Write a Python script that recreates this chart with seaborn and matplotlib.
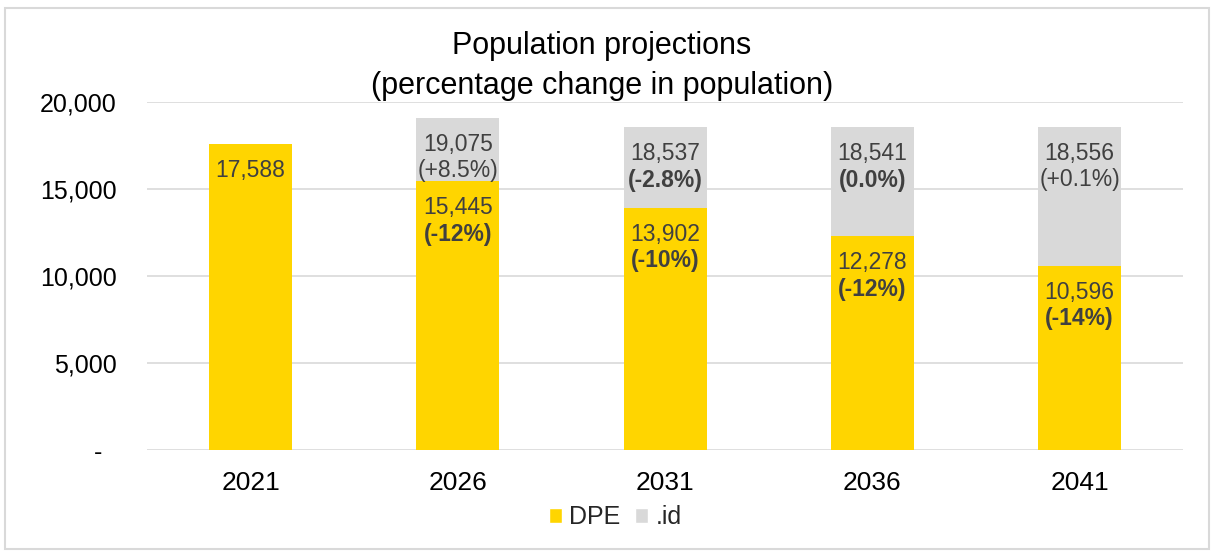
import matplotlib
matplotlib.use("Agg")
import matplotlib.pyplot as plt
import numpy as np
import pandas as pd
import seaborn as sns
from matplotlib.patches import Rectangle, Patch
from matplotlib.ticker import FuncFormatter, MultipleLocator

# Projection data
years = ["2021", "2026", "2031", "2036", "2041"]
dpe_values = [17588, 15445, 13902, 12278, 10596]
dpe_change = [None, "-12%", "-10%", "-12%", "-14%"]
id_values = [np.nan, 19075, 18537, 18541, 18556]
id_change = [None, "+8.5%", "-2.8%", "0.0%", "+0.1%"]
id_change_bold = [False, False, True, True, False]

YELLOW = "#FFD500"
GRAY = "#D9D9D9"
TEXT = "#404040"

sns.set_theme(style="white")
plt.rcParams["font.family"] = ["Liberation Sans", "DejaVu Sans"]

df = pd.DataFrame({"year": years, "DPE": dpe_values, "id": id_values})

fig, ax = plt.subplots(figsize=(12.11, 5.51), dpi=100)
fig.subplots_adjust(left=0.1214, right=0.977, bottom=0.183, top=0.815)

# .id projection sits behind the DPE projection
sns.barplot(data=df, x="year", y="id", color=GRAY, width=0.4, saturation=1,
            errorbar=None, ax=ax, zorder=2, linewidth=0)
sns.barplot(data=df, x="year", y="DPE", color=YELLOW, width=0.4, saturation=1,
            errorbar=None, ax=ax, zorder=3, linewidth=0)

ax.set_ylim(0, 20000)
ax.yaxis.set_major_locator(MultipleLocator(5000))
ax.yaxis.set_major_formatter(FuncFormatter(lambda v, p: "-  " if v == 0 else f"{v:,.0f}"))
ax.yaxis.grid(True, color="#D9D9D9", linewidth=1.2)
ax.set_axisbelow(True)
for s in ax.spines.values():
    s.set_visible(False)
ax.tick_params(axis="both", length=0, colors="black")
ax.tick_params(axis="y", pad=22, labelsize=18)
ax.tick_params(axis="x", pad=15, labelsize=19)
ax.set_xlabel("")
ax.set_ylabel("")


def label_bar(i, value, change, bold):
    ax.annotate(f"{value:,.0f}", xy=(i, value), xytext=(0, -19),
                textcoords="offset points", ha="center", va="center",
                fontsize=16.5, color=TEXT, zorder=5)
    if change is not None:
        ax.annotate(f"({change})", xy=(i, value), xytext=(0, -38),
                    textcoords="offset points", ha="center", va="center",
                    fontsize=16.5, color=TEXT, zorder=5,
                    fontweight="bold" if bold else "normal")


for i in range(len(years)):
    if not np.isnan(id_values[i]):
        label_bar(i, id_values[i], id_change[i], id_change_bold[i])
    label_bar(i, dpe_values[i], dpe_change[i], True)

fig.text(0.497, 0.88, "Population projections\n(percentage change in population)",
         ha="center", va="center", fontsize=22, color="black", linespacing=1.42)

handles = [Patch(facecolor=YELLOW, label="DPE"), Patch(facecolor=GRAY, label=".id")]
fig.legend(handles=handles, loc="center", bbox_to_anchor=(0.508, 0.061), ncol=2,
           frameon=False, fontsize=18, handlelength=0.52, handleheight=0.52,
           handletextpad=0.3, columnspacing=0.6)

fig.patches.append(Rectangle((0.004, 0.004), 0.994, 0.982, transform=fig.transFigure,
                             fill=False, edgecolor="#D9D9D9", linewidth=1.5))

fig.savefig("out.png", dpi=100)
